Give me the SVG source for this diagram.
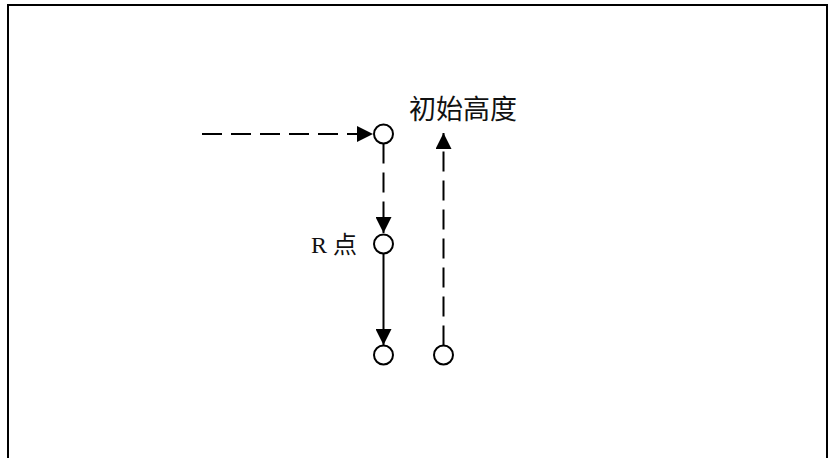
<svg xmlns="http://www.w3.org/2000/svg" width="829" height="458" viewBox="0 0 829 458">
  <style>
    .node { fill: #ffffff; stroke: #000000; stroke-width: 2; }
    .edge { fill: none; stroke: #000000; stroke-width: 2; }
    .dash { stroke-dasharray: 20 9; }
    .cjk { font-family: "Noto Sans CJK SC", sans-serif; fill: #111111; }
    .lbl { font-family: "Liberation Serif", "Noto Sans CJK SC", serif; fill: #111111; }
  </style>
  <defs>
    <marker id="arrow" markerUnits="userSpaceOnUse" markerWidth="16" markerHeight="16" refX="16" refY="8" orient="auto">
      <path d="M0,0 L16,8 L0,16 Z" fill="#000000"/>
    </marker>
  </defs>
  <rect x="0" y="0" width="829" height="458" fill="#ffffff"/>
  <rect x="8" y="5" width="819" height="470" fill="none" stroke="#000000" stroke-width="2"/>

  <g id="connectors">
    <line class="edge dash" x1="202" y1="134" x2="373" y2="134" marker-end="url(#arrow)"/>
    <line class="edge dash" x1="383.5" y1="143.5" x2="383.5" y2="233" marker-end="url(#arrow)"/>
    <line class="edge" x1="383.5" y1="253.5" x2="383.5" y2="345" marker-end="url(#arrow)"/>
    <line class="edge dash" x1="443.5" y1="345.5" x2="443.5" y2="133" marker-end="url(#arrow)"/>
  </g>

  <g id="node-start">
    <circle class="node" cx="383.5" cy="134" r="9.5"/>
  </g>
  <g id="node-initial-height-label">
    <text class="cjk" x="409" y="119" font-size="27">初始高度</text>
  </g>
  <g id="node-r">
    <circle class="node" cx="383.5" cy="244" r="9.5"/>
    <text class="lbl" x="311" y="253" font-size="24">R 点</text>
  </g>
  <g id="node-bottom-left">
    <circle class="node" cx="383.5" cy="355" r="9.5"/>
  </g>
  <g id="node-bottom-right">
    <circle class="node" cx="443.5" cy="355" r="9.5"/>
  </g>
</svg>
